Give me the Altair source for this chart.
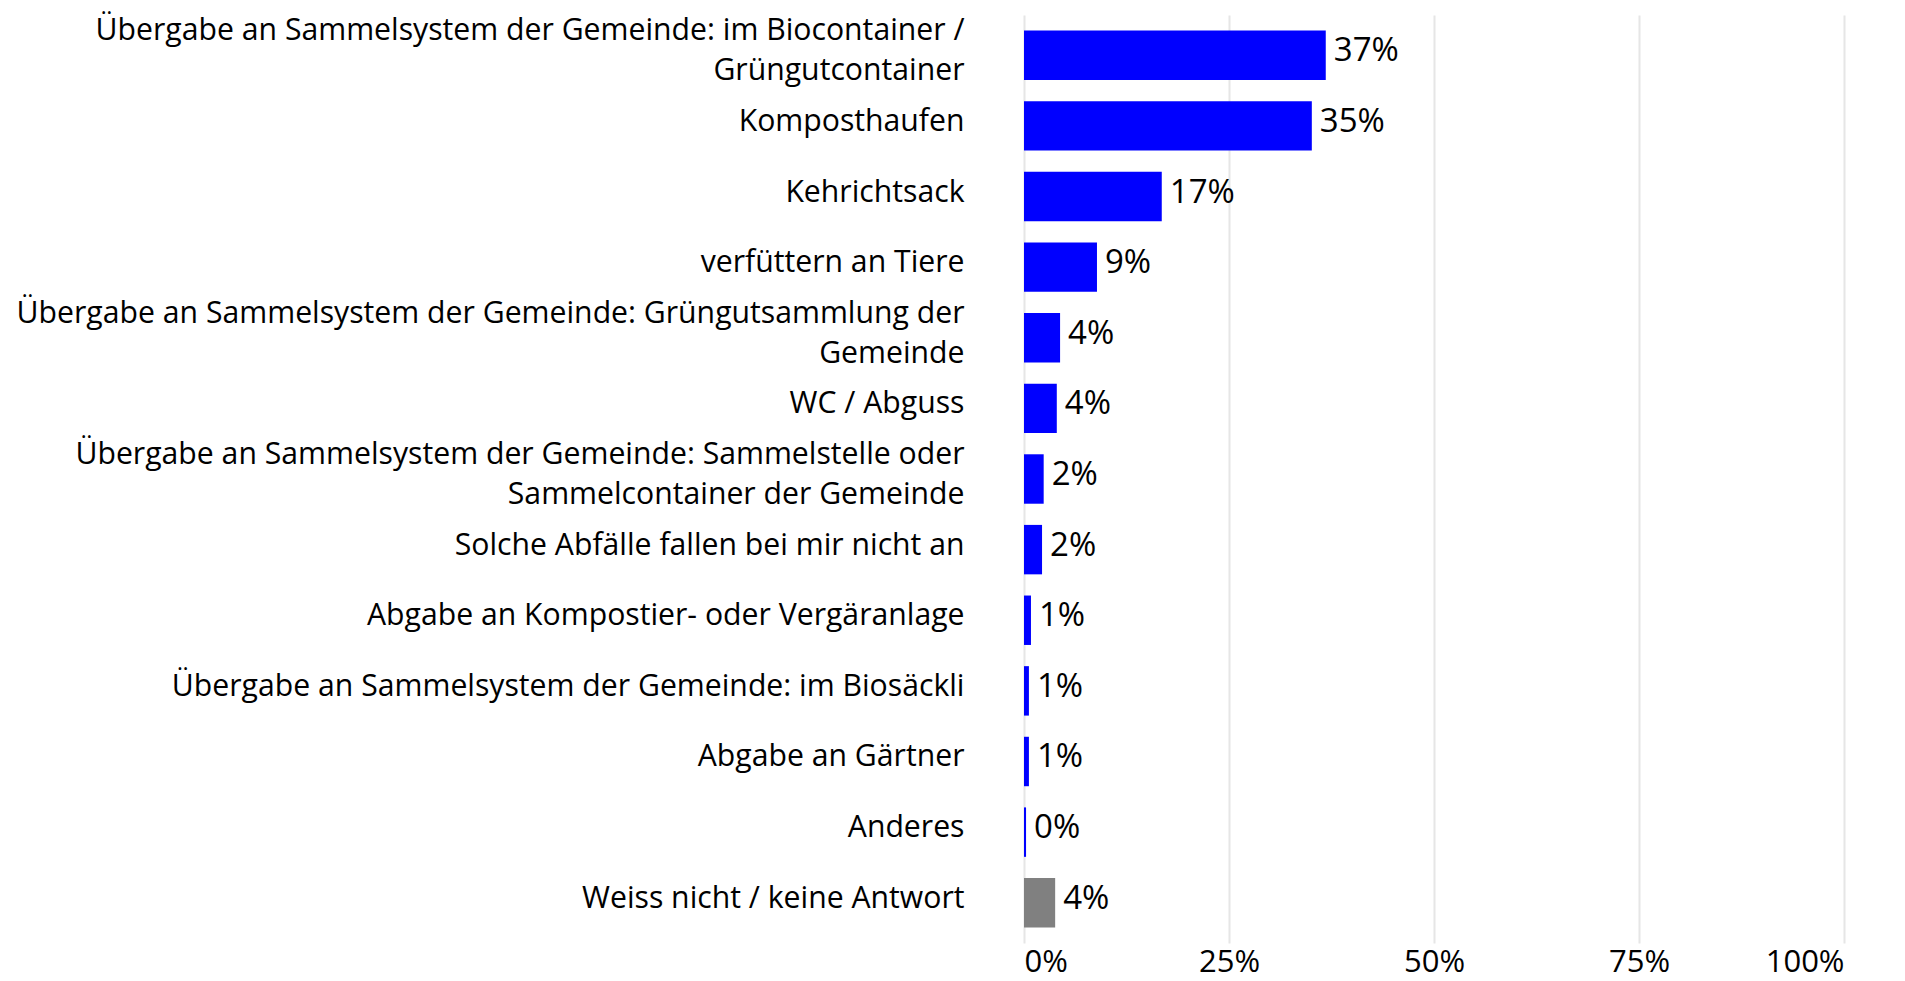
import altair as alt
import pandas as pd

categories = [
    "Übergabe an Sammelsystem der Gemeinde: im Biocontainer /|Grüngutcontainer",
    "Komposthaufen",
    "Kehrichtsack",
    "verfüttern an Tiere",
    "Übergabe an Sammelsystem der Gemeinde: Grüngutsammlung der|Gemeinde",
    "WC / Abguss",
    "Übergabe an Sammelsystem der Gemeinde: Sammelstelle oder|Sammelcontainer der Gemeinde",
    "Solche Abfälle fallen bei mir nicht an",
    "Abgabe an Kompostier- oder Vergäranlage",
    "Übergabe an Sammelsystem der Gemeinde: im Biosäckli",
    "Abgabe an Gärtner",
    "Anderes",
    "Weiss nicht / keine Antwort",
]
values = [36.8, 35.1, 16.8, 8.9, 4.4, 4.0, 2.4, 2.2, 0.85, 0.6, 0.6, 0.25, 3.8]
value_labels = ["37%", "35%", "17%", "9%", "4%", "4%", "2%", "2%", "1%", "1%", "1%", "0%", "4%"]
groups = ["answer"] * 12 + ["no answer"]
x_ticks = [0, 25, 50, 75, 100]

df = pd.DataFrame({
    "category": categories,
    "value": values,
    "label": value_labels,
    "group": groups,
})

FONT = "Open Sans"
FS_CAT = 30.2
FS_NUM = 33
FS_AXIS = 31

y_enc = alt.Y(
    "category:N",
    sort=categories,
    scale=alt.Scale(paddingInner=0.3, paddingOuter=0.22),
    axis=alt.Axis(
        title=None,
        labelExpr="split(datum.label, '|')",
        labelFont=FONT,
        labelFontSize=FS_CAT,
        labelColor="#000000",
        labelLineHeight=40,
        labelPadding=60,
        labelLimit=1100,
        labelOffset=alt.condition("indexof(datum.value, '|') >= 0", alt.value(-24), alt.value(-4)),
        ticks=False,
        domain=False,
        grid=False,
    ),
)
x_enc = alt.X(
    "value:Q",
    scale=alt.Scale(domain=[0, 100], nice=False),
    axis=alt.Axis(
        title=None,
        values=x_ticks,
        labelExpr="datum.value + '%'",
        labelFont=FONT,
        labelFontSize=FS_AXIS,
        labelColor="#000000",
        labelPadding=4,
        ticks=False,
        domain=False,
        grid=True,
        gridColor="#e6e6e6",
        gridWidth=2,
    ),
)

bars = alt.Chart(df).mark_bar().encode(
    x=x_enc,
    y=y_enc,
    color=alt.Color(
        "group:N",
        scale=alt.Scale(domain=["answer", "no answer"], range=["#0000ff", "#808080"]),
        legend=None,
    ),
)

text = alt.Chart(df).mark_text(
    align="left", baseline="middle", dx=8, dy=-4, font=FONT, fontSize=FS_NUM, color="#000000"
).encode(
    x=alt.X("value:Q"),
    y=alt.Y("category:N", sort=categories),
    text="label:N",
)

chart = (
    alt.layer(bars, text)
    .properties(
        width=820,
        height=928,
        autosize=alt.AutoSizeParams(type="none"),
        padding={"left": 1016, "top": 7, "right": 50, "bottom": 38},
    )
    .configure_view(stroke=None)
)

chart.save("out.html", embed_options={"renderer": "svg", "actions": False})
